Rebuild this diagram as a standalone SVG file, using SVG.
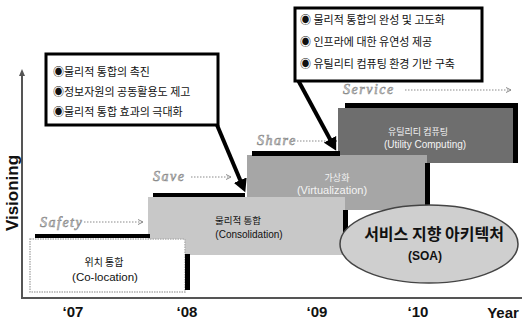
<svg xmlns="http://www.w3.org/2000/svg" width="526" height="324" viewBox="0 0 526 324">
<defs>
<style>
.kr{font-family:"Noto Sans CJK KR","Noto Sans",sans-serif;}
.en{font-family:"Liberation Sans",Arial,sans-serif;}
.phase{font-family:"Liberation Serif",serif;font-style:italic;font-size:14px;letter-spacing:1.5px;fill:#d8d8d8;stroke:#8a8a8a;stroke-width:0.6;}
.dots{stroke:#8a8a8a;stroke-width:1;stroke-dasharray:1.5,1.5;fill:none;}
.bar{fill:#000;}
.call{fill:#fff;stroke:#000;stroke-width:3;}
.ptr{stroke:#000;stroke-width:4;fill:none;}
.ax{stroke:#555;stroke-width:2;fill:none;}
.tick{font-family:"Liberation Sans",Arial,sans-serif;font-weight:bold;font-size:15px;fill:#111;}
.ct{font-size:11px;fill:#111;}
</style>
<marker id="da" markerWidth="6" markerHeight="6" refX="5" refY="3" orient="auto" markerUnits="userSpaceOnUse">
<path d="M0,0.5 L5,3 L0,5.5" fill="none" stroke="#8a8a8a" stroke-width="1"/>
</marker>
<marker id="pa" markerWidth="14" markerHeight="14" refX="2" refY="7" orient="auto" markerUnits="userSpaceOnUse">
<path d="M0,0 L13,7 L0,14 Z" fill="#000"/>
</marker>
<marker id="ya" markerWidth="8" markerHeight="8" refX="4" refY="4" orient="auto" markerUnits="userSpaceOnUse">
<path d="M0,1 L7,4 L0,7 Z" fill="#555"/>
</marker>
</defs>

<g id="axes">
<line class="ax" x1="22" y1="298" x2="22" y2="72" marker-end="url(#ya)"/>
<line class="ax" x1="21" y1="298" x2="522" y2="298"/>
<text class="en" x="12" y="193" font-size="17" font-weight="bold" text-anchor="middle" transform="rotate(-90 12 193)" dominant-baseline="central" fill="#111">Visioning</text>
<text class="tick" x="73" y="317" text-anchor="middle">‘07</text>
<text class="tick" x="187" y="317" text-anchor="middle">‘08</text>
<text class="tick" x="317" y="317" text-anchor="middle">‘09</text>
<text class="tick" x="418" y="317" text-anchor="middle">‘10</text>
<text class="tick" x="503" y="318" text-anchor="middle">Year</text>
</g>

<g id="phases">
<text class="phase" x="40" y="227">Safety</text>
<line class="dots" x1="84" y1="222" x2="143" y2="222" marker-end="url(#da)"/>
<text class="phase" x="153" y="181">Save</text>
<line class="dots" x1="191" y1="177" x2="231" y2="177" marker-end="url(#da)"/>
<text class="phase" x="257" y="145">Share</text>
<line class="dots" x1="294" y1="141" x2="337" y2="141" marker-end="url(#da)"/>
<text class="phase" x="343" y="94">Service</text>
<line class="dots" x1="405" y1="90" x2="511" y2="90" marker-end="url(#da)"/>
</g>

<g id="utility">
<rect x="338" y="108" width="177" height="55" fill="#6e6e6e"/>
<rect class="bar" x="345" y="103" width="173" height="5"/>
<rect class="bar" x="513" y="103" width="5" height="60"/>
<text class="kr" x="418" y="135" font-size="9" fill="#f4f4f4" text-anchor="middle">유틸리티 컴퓨팅</text>
<text class="en" x="425" y="148" font-size="10" fill="#f4f4f4" text-anchor="middle">(Utility Computing)</text>
</g>

<g id="virtualization">
<rect x="247" y="155" width="180" height="55" fill="#a6a6a6"/>
<rect class="bar" x="252" y="151" width="88" height="5"/>
<rect class="bar" x="425" y="163" width="5" height="44"/>
<text class="kr" x="337" y="181" font-size="9" fill="#f4f4f4" text-anchor="middle">가상화</text>
<text class="en" x="332" y="194" font-size="11" fill="#f4f4f4" text-anchor="middle">(Virtualization)</text>
</g>

<g id="consolidation">
<rect x="148" y="197" width="197" height="58" fill="#c8c8c8"/>
<rect class="bar" x="153" y="193" width="92" height="4"/>
<rect class="bar" x="343" y="210" width="5" height="42"/>
<text class="kr" x="238" y="224" font-size="9.5" fill="#111" text-anchor="middle">물리적 통합</text>
<text class="en" x="249" y="238" font-size="10" fill="#111" text-anchor="middle">(Consolidation)</text>
</g>

<g id="colocation">
<rect x="30" y="239" width="155" height="53" fill="#fff" stroke="#b0b0b0" stroke-width="1.5" stroke-dasharray="1.5,1"/>
<rect class="bar" x="35" y="234" width="115" height="4"/>
<rect class="bar" x="185" y="254" width="5" height="36"/>
<text class="kr" x="104" y="266" font-size="10" fill="#111" text-anchor="middle">위치 통합</text>
<text class="en" x="105" y="281" font-size="11.5" fill="#111" text-anchor="middle">(Co-location)</text>
</g>

<g id="soa">
<ellipse cx="429" cy="244" rx="89" ry="39" fill="#cfcfcf" stroke="#444" stroke-width="1.5"/>
<text class="kr" x="434" y="240" font-size="16" font-weight="bold" fill="#111" text-anchor="middle">서비스 지향 아키텍처</text>
<text class="en" x="425" y="260" font-size="12" font-weight="bold" fill="#111" text-anchor="middle">(SOA)</text>
</g>

<g id="connectors">
<line class="ptr" x1="217" y1="125" x2="241" y2="182" marker-end="url(#pa)"/>
<line class="ptr" x1="298" y1="80" x2="331" y2="141" marker-end="url(#pa)"/>
</g>

<g id="callout1">
<rect class="call" x="46" y="54" width="172" height="71"/>
<text class="kr ct" x="53" y="76">◉물리적 통합의 촉진</text>
<text class="kr ct" x="53" y="96">◉정보자원의 공동활용도 제고</text>
<text class="kr ct" x="53" y="116">◉물리적 통합 효과의 극대화</text>
</g>

<g id="callout2">
<rect class="call" x="295" y="8" width="187" height="73"/>
<text class="kr ct" x="300" y="24" font-size="11.5">◉ 물리적 통합의 완성 및 고도화</text>
<text class="kr ct" x="300" y="46" font-size="11.5">◉ 인프라에 대한 유연성 제공</text>
<text class="kr ct" x="300" y="68" font-size="11.5">◉ 유틸리티 컴퓨팅 환경 기반 구축</text>
</g>
</svg>
